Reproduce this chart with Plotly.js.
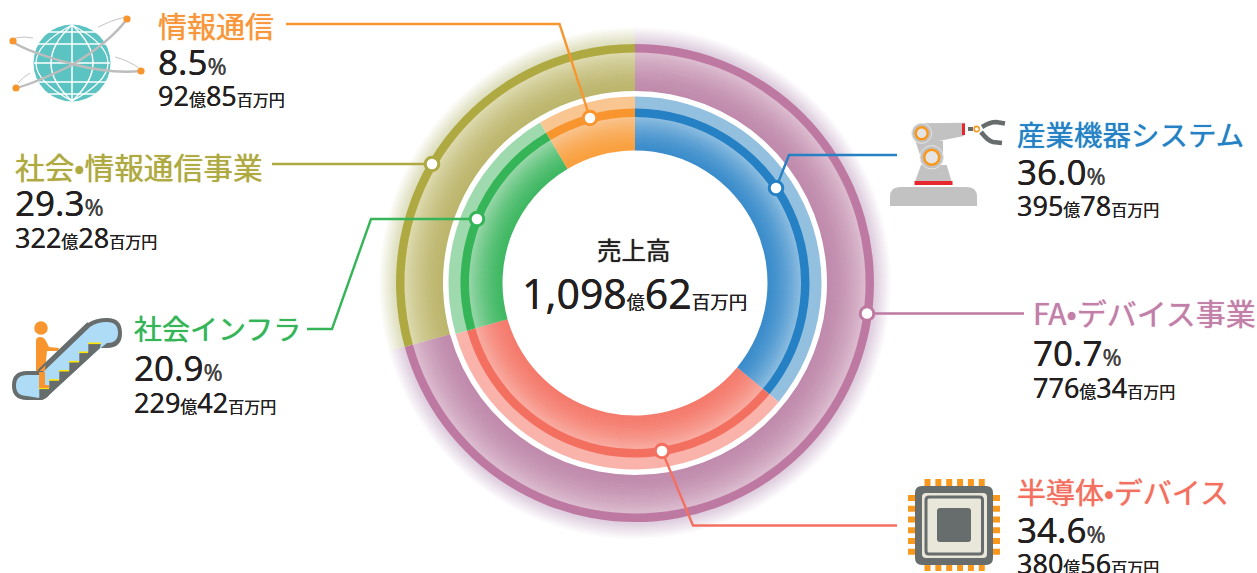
<!DOCTYPE html>
<html><head><meta charset="utf-8">
<script src="https://cdn.plot.ly/plotly-3.0.1.min.js"></script>
<style>html,body{margin:0;padding:0;background:#fff;overflow:hidden}#c{width:1257px;height:573px}</style>
</head><body><div id="c"></div>
<script>
// ---------- data ----------
const innerNames  = ['産業機器システム','半導体•デバイス','社会インフラ','情報通信'];
const innerShares = [36.0,34.6,20.9,8.5];
const innerAmount = [['395','78'],['380','56'],['229','42'],['92','85']];
const outerNames  = ['FA•デバイス事業','社会•情報通信事業'];
const outerShares = [70.7,29.3];
const outerAmount = [['776','34'],['322','28']];
const totalLabel  = '売上高';
const totalAmount = ['1,098','62'];

// ---------- palette ----------
const innerStrip = ['#2581c4','#f37061','#35b558','#f8952e'];
const innerBand  = ['#94c0e0','#f9b3aa','#9fd9ae','#f9c590'];
const innerFrom  = ['#3a8ccb','#f47a6c','#3fb862','#f99f3d'];
const innerTo    = ['#8dbde0','#f9aca2','#98d7a9','#f9c48e'];
const outerStrip = ['#bd79a1','#afa942'];
const outerFrom  = ['#c08aac','#bcb56c'];
const outerTo    = ['#dcbccf','#ddd9ae'];
const glow       = ['rgba(150,80,130,0.02)','rgba(170,165,60,0.02)'];

const CX=635, CY=283, W=1257, H=573;
function hex(c){return [1,3,5].map(i=>parseInt(c.substr(i,2),16));}
function mix(a,b,t){const A=hex(a),B=hex(b);return 'rgb('+A.map((v,i)=>Math.round(v+(B[i]-v)*t)).join(',')+')';}
function ring(values,names,colors,rOut,rIn){
  return {type:'pie',values:values,labels:names,sort:false,direction:'clockwise',rotation:0,
    hole:rIn/rOut,textinfo:'none',hoverinfo:'skip',showlegend:false,
    marker:{colors:colors,line:{width:0}},
    domain:{x:[(CX-rOut)/W,(CX+rOut)/W],y:[1-(CY+rOut)/H,1-(CY-rOut)/H]}};
}
const traces=[];
// outer glow: stacked translucent rings
for(let r=256;r>240;r-=1) traces.push(ring(outerShares,outerNames,glow,r,238.5));
// outer gradient, painted outermost first
for(let r=231;r>192;r-=1.5){
  const t=Math.pow((r-192)/39,1.6);
  traces.push(ring(outerShares,outerNames,outerFrom.map((c,i)=>mix(c,outerTo[i],t)),r,Math.max(192,r-2.2)));
}
traces.push(ring(outerShares,outerNames,outerStrip,239,230.5));
// inner band, strip, gradient
traces.push(ring(innerShares,innerNames,innerBand,186.5,173.5));
for(let r=167;r>132.5;r-=1.5){
  const t=Math.pow((r-132.5)/34.5,1.5);
  traces.push(ring(innerShares,innerNames,innerFrom.map((c,i)=>mix(c,innerTo[i],t)),r,Math.max(132.5,r-2.2)));
}
traces.push(ring(innerShares,innerNames,innerStrip,174.5,166));

// ---------- shapes ----------
const shapes=[];
function line(path,color,w){shapes.push({type:'path',xref:'x',yref:'y',path:path,line:{color:color,width:w},fillcolor:'rgba(0,0,0,0)',layer:'above'});}
function fill(path,color){shapes.push({type:'path',xref:'x',yref:'y',path:path,line:{width:0},fillcolor:color,layer:'above'});}
function circle(x,y,r,f,lc,lw){shapes.push({type:'circle',xref:'x',yref:'y',x0:x-r,x1:x+r,y0:y-r,y1:y+r,fillcolor:f,line:{color:lc||f,width:lw||0},layer:'above'});}
function rrect(x0,y0,x1,y1,r){return `M${x0+r},${y0}L${x1-r},${y0}Q${x1},${y0} ${x1},${y0+r}L${x1},${y1-r}Q${x1},${y1} ${x1-r},${y1}L${x0+r},${y1}Q${x0},${y1} ${x0},${y1-r}L${x0},${y0+r}Q${x0},${y0} ${x0+r},${y0}Z`;}

// leaders
line('M286,24L559.5,24L590,118','#f8952e',2.4);
line('M272,164L432,164','#afa942',2.4);
line('M307,329L332,329L371,219L477,219','#35b558',2.4);
line('M897,155L789,155L776,188','#2581c4',2.4);
line('M867,313.5L1024,313.5','#bd79a1',2.4);
line('M662,451L693,525.5L897,525.5','#f37061',2.4);
[[590,118,'#f8952e'],[432,164,'#afa942'],[477,219,'#35b558'],[776,188,'#2581c4'],[867,313.5,'#bd79a1'],[662,451,'#f37061']]
  .forEach(d=>circle(d[0],d[1],6.8,'#fff',d[2],3));

// globe icon
const GC='#5cc3c3';
line('M15,38Q24,36 33,38','#c4c4c4',1);
line('M98,27Q112,20 125,17','#c4c4c4',1);
line('M115,57Q130,61 140,69','#c4c4c4',1);
line('M18,83Q23,77 30,73','#c4c4c4',1);
circle(72,63,38.5,GC);
const wl='#ffffff';
line('M72,25L72,101',wl,1.5);
line('M34,63L110,63',wl,1.5);
line('M38,44L106,44',wl,1.5);
line('M38,82L106,82',wl,1.5);
line('M48,32L96,32',wl,1.3);
line('M48,94L96,94',wl,1.3);
line('M72,25Q30,63 72,101Q114,63 72,25Z',wl,1.5);
line('M72,25Q0,63 72,101Q144,63 72,25',wl,1.3);
line('M13,42Q28,52 72,64Q110,74 141,71','#bdbdbd',2.5);
line('M127,19Q110,42 72,65Q33,84 16,88','#bdbdbd',2.5);
[[13,41],[127,19],[141,71],[16,88]].forEach(p=>circle(p[0],p[1],3.6,'#f8952e'));

// escalator icon
fill('M27,371L38,371L88,323Q96,318 107,318Q122,318 122,333Q122,348 107,348L100,348L50,394Q45,400 40,400L27,400Q12,400 12,385.5Q12,371 27,371Z','#676c6c');
fill('M27,375L40,375L90,327Q97,322 107,322Q118,322 118,333Q118,343 107,343L39,398L27,396Q16,396 16,385.5Q16,375 27,375Z','#aedcf7');
fill('M39.3,388.3L49.3,388.3L49.3,380L59.3,380L59.3,370.7L69.3,370.7L69.3,361.7L79.3,361.7L79.3,352.3L88.3,352.3L88.3,343.3L101,343.3L100,348L50,394Q45,400 40,400L39.3,400Z','#676c6c');
[[39,49,388.3],[49,59,380],[59,69,370.7],[69,79,361.7],[79,88,352.3],[88,101,343.3]].forEach(s=>line(`M${s[0]},${s[2]}L${s[1]},${s[2]}`,'#ffe600',1.6));
circle(41,328,6.8,'#f8952e');
fill('M36,341Q36,337 40,337Q44,337 46,341L49,347L59,348L58,351L47,351L45,371L39,371L36,371Z','#f8952e');
fill('M39,372L45,372L45,385L49,385L49,388L39,388Z','#f8952e');
line('M38,371L88,323','#676c6c',2);

// robot icon
fill('M890,206L890,197Q890,187 900,187L967,187Q977,187 977,197L977,206Z','#c2c2c2');
fill('M921,165L915,181.7L951.7,181.7L946.7,165Z','#c2c2c2');
fill('M914.5,181L952.5,181L952.5,185L914.5,185Z','#e8262d');
fill('M915,140L921.7,160L943,160L943,141Z','#c2c2c2');
fill('M921.7,123.3L965,122.7L964,136L935,141.7L921.7,143Z','#c2c2c2');
circle(921.7,133.3,10,'#c2c2c2','#e6e6e6',1);
circle(931.7,157.3,11.7,'#c2c2c2','#e6e6e6',1);
fill('M962,123.5L965,123.5L965,135L962,135Z','#e8262d');
circle(921.7,133.3,6,'#e4e4e4','#f8981d',2.5);
circle(931.7,157.3,7.5,'#e4e4e4','#f8981d',2.5);
fill('M968,127L973,127L973,131L968,131Z','#676c6c');
circle(976.7,129,2.6,'#fff','#f8981d',1.6);
line('M982,127Q990,122 996,122L1005,123.5','#676c6c',4.5);
line('M981,132Q988,141 993,142L1002,143','#676c6c',4.5);

// chip icon
for(let i=0;i<6;i++){
  fill(rrect(924.5+10.85*i,479,930.5+10.85*i,486,0),'#f8981d');
  fill(rrect(924.5+10.85*i,565,930.5+10.85*i,571,0),'#f8981d');
  fill(rrect(908,495+10.75*i,915,501+10.75*i,0),'#f8981d');
  fill(rrect(993,495+10.75*i,1000,501+10.75*i,0),'#f8981d');
}
fill(rrect(915,486,993,565,7),'#676c6c');
fill(rrect(922,493,987,558,4),'#e8e7da');
shapes.push({type:'path',xref:'x',yref:'y',path:rrect(926,497,982.5,554,3),line:{color:'#676c6c',width:3},fillcolor:'#e8e7da',layer:'above'});
fill(rrect(937,508,971,542,3),'#676c6c');

// ---------- text ----------
const JP='"Noto Sans CJK JP","Noto Sans",sans-serif';
const NUM='"Noto Sans","Noto Sans CJK JP",sans-serif';
const DARK='#231f20';
const anns=[];
function txt(x,y,text,size,color,family,anchor,sh){
  const f={size:size,color:color,family:family,weight:400};
  if(sh) f.shadow='0 0 '+sh+'px '+color;
  anns.push({xref:'x',yref:'y',x:x,y:y,text:text,showarrow:false,xanchor:anchor||'left',yanchor:'middle',align:'left',borderpad:0,font:f});
}
const sm=(s,px)=>`<span style="font-family:${"'Noto Sans CJK JP'"};font-size:${px}px">${s}</span>`;
function block(x,yT,yP,yA,name,color,share,amt,tsize){
  txt(x-1,yT-1,name,tsize,color,JP,'left',1);
  txt(x-1.5,yP-2.5,share.toFixed(1)+`<span style="font-size:23px;color:#444">%</span>`,35,DARK,NUM,'left',0.4);
  txt(x-1.5,yA-1,amt[0]+sm('億',17)+amt[1]+sm('百万円',16),27,DARK,NUM,'left',0.4);
}
block(158,26,64,96,innerNames[3],'#f8963c',innerShares[3],innerAmount[3],29);
block(15,167,205,238,outerNames[1],'#afa942',outerShares[1],outerAmount[1],29.7);
block(134,329,370,403,innerNames[2],'#35b558',innerShares[2],innerAmount[2],28);
block(1017,134,174,206,innerNames[0],'#2581c4',innerShares[0],innerAmount[0],28.5);
block(1033,313,355,388,outerNames[0],'#c27fa8',outerShares[0],outerAmount[0],30);
block(1017,492,532,564,innerNames[1],'#f37061',innerShares[1],innerAmount[1],29);
txt(634,249,totalLabel,24.5,DARK,JP,'center',1);
txt(634,293,totalAmount[0]+sm('億',18)+totalAmount[1]+sm('百万円',18.5),41,DARK,NUM,'center',0.4);

Plotly.newPlot('c',traces,{
  width:W,height:H,margin:{l:0,r:0,t:0,b:0,pad:0},paper_bgcolor:'#fff',plot_bgcolor:'#fff',showlegend:false,
  xaxis:{range:[0,W],visible:false,fixedrange:true,domain:[0,1]},
  yaxis:{range:[H,0],visible:false,fixedrange:true,domain:[0,1]},
  shapes:shapes,annotations:anns,hovermode:false
},{displayModeBar:false,staticPlot:true});
</script></body></html>
